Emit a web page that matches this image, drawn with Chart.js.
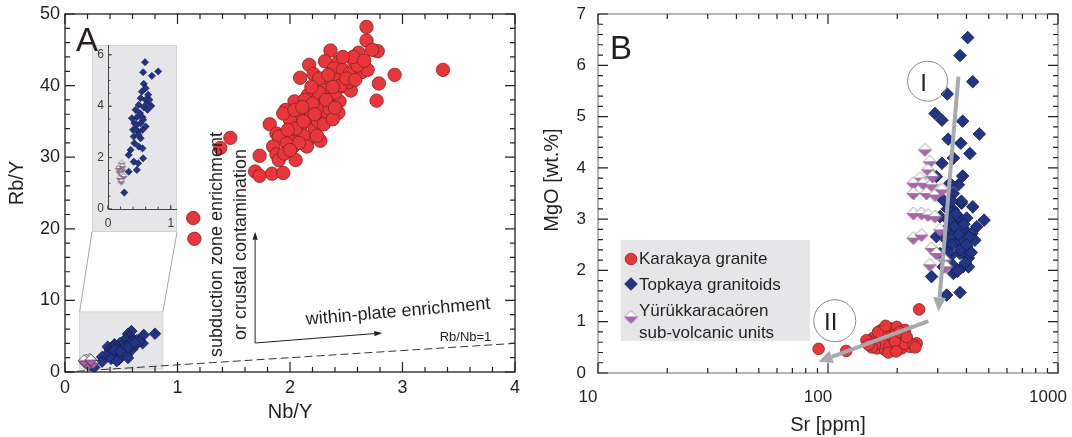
<!DOCTYPE html>
<html lang="en">
<head>
<meta charset="utf-8">
<title>Nb/Y – Rb/Y and Sr – MgO</title>
<script src="https://cdn.jsdelivr.net/npm/chart.js@4.4.0/dist/chart.umd.min.js"></script>
<style>
  html, body { margin: 0; padding: 0; background: #fff; }
  #page { position: relative; width: 1072px; height: 437px; overflow: hidden; }
  #page canvas { position: absolute; }
  #chartA { left: 0; top: 0; }
  #chartB { left: 536px; top: 0; }
</style>
</head>
<body>
<div id="page">
  <!-- inset sits under panel A so the panel letter stays on top -->
  <canvas id="chartInset" width="85" height="187"></canvas>
  <canvas id="chartA" width="536" height="437"></canvas>
  <canvas id="chartB" width="536" height="437"></canvas>
</div>
<script>
/* ============================================
   Panel A: Nb/Y vs Rb/Y (with inset)
   Panel B: Sr vs MgO
   ============================================ */

const FONT = "'Liberation Sans', Arial, Helvetica, sans-serif";
const INK = '#231f20';
Chart.defaults.font.family = FONT;
Chart.defaults.color = INK;

// --- panel A samples: [Nb/Y, Rb/Y] ---
const karakayaNbRb = [
    [1.14, 21.5], [1.15, 18.6], [1.38, 31.3], [1.47, 32.7],
    [2.68, 48.2], [2.68, 46.3], [2.78, 44.8], [2.73, 45.0], [2.36, 44.9], [2.61, 44.6],
    [2.17, 42.9], [2.31, 43.4], [2.43, 43.3], [2.57, 43.4], [2.93, 41.5], [3.36, 42.2],
    [2.09, 41.1], [2.21, 41.6], [2.39, 42.4], [2.47, 42.2], [2.64, 41.9], [2.69, 42.2], [2.53, 41.7],
    [2.79, 40.3], [2.77, 37.9], [2.30, 40.5], [2.42, 40.8], [2.47, 39.9], [2.54, 39.3], [2.29, 39.5],
    [2.16, 38.7], [2.04, 37.8], [1.96, 36.6], [2.13, 38.0], [2.24, 38.0], [2.31, 37.3], [2.44, 37.8],
    [2.43, 36.2], [2.28, 36.6], [2.33, 35.7], [2.15, 35.4], [2.07, 35.9], [2.00, 35.2], [1.82, 34.6],
    [1.88, 33.3], [1.90, 32.9], [2.02, 32.9], [2.03, 31.5], [2.16, 32.4], [2.22, 34.0], [2.27, 32.3],
    [1.85, 31.5], [1.88, 30.4], [1.90, 29.6], [2.05, 29.6], [1.73, 30.2], [1.69, 28.0], [1.73, 27.4],
    [1.84, 27.7], [1.94, 27.8], [1.97, 31.9], [2.09, 33.3], [1.94, 36.1], [2.36, 38.7], [2.04, 36.6],
    [2.10, 34.5], [2.18, 36.5], [2.25, 35.0], [2.35, 36.8], [2.12, 33.0], [2.20, 37.5], [2.05, 34.0],
    [2.15, 31.5], [2.40, 39.0], [2.52, 40.5], [2.60, 42.8], [2.26, 39.0],
    [2.26, 41.0], [2.34, 41.5], [2.45, 40.0], [2.50, 41.0], [2.58, 40.8], [2.38, 39.8], [2.32, 38.0],
    [2.19, 39.8], [2.11, 37.0], [2.22, 36.0], [2.30, 34.6], [2.38, 35.3], [2.08, 32.0], [1.98, 33.8],
    [2.12, 35.0], [2.24, 33.0], [1.95, 30.5], [2.00, 31.0], [2.56, 44.0], [2.47, 44.0], [2.66, 43.5],
    [2.40, 36.9]
];
const topkayaNbRb = [
    [0.59, 5.71], [0.56, 5.32], [0.70, 5.18], [0.80, 5.35], [0.57, 4.87], [0.60, 4.70], [0.54, 4.57],
    [0.64, 4.44], [0.52, 4.31], [0.60, 4.25], [0.69, 4.01], [0.49, 4.05], [0.57, 3.96], [0.44, 3.86],
    [0.51, 3.73], [0.38, 3.53], [0.46, 3.57], [0.55, 3.57], [0.42, 3.34], [0.52, 3.34], [0.60, 3.21],
    [0.40, 3.08], [0.48, 3.01], [0.55, 3.08], [0.41, 2.82], [0.52, 2.75], [0.42, 2.56], [0.49, 2.43],
    [0.55, 2.36], [0.36, 2.30], [0.33, 2.10], [0.41, 1.84], [0.48, 1.78], [0.56, 1.97], [0.46, 1.52],
    [0.33, 1.45], [0.26, 0.64], [0.46, 3.27], [0.56, 3.47], [0.63, 3.86], [0.44, 3.08], [0.49, 2.88],
    [0.66, 4.25], [0.62, 4.09]
];
const yurukNbRb = [
    [0.22, 1.78], [0.19, 1.65], [0.23, 1.52], [0.18, 1.45], [0.22, 1.32],
    [0.19, 1.19], [0.21, 1.06], [0.25, 1.26], [0.17, 1.58], [0.23, 1.65]
];

// --- panel B samples: [Sr ppm, MgO wt.%] ---
const karakayaSrMg = [
    [249, 1.24], [91, 0.47], [120, 0.43], [171, 0.84], [186, 0.87], [199, 0.90], [157, 0.68],
    [151, 0.61], [168, 0.64], [180, 0.71], [195, 0.74], [209, 0.71], [223, 0.61], [243, 0.58],
    [163, 0.48], [177, 0.45], [192, 0.48], [209, 0.48], [227, 0.51], [147, 0.64], [189, 0.61],
    [206, 0.61], [174, 0.58], [216, 0.84], [160, 0.55], [185, 0.52], [200, 0.55], [215, 0.57],
    [235, 0.55], [170, 0.75], [155, 0.50], [195, 0.62], [165, 0.80], [178, 0.92], [205, 0.80],
    [220, 0.70], [150, 0.55], [240, 0.50], [183, 0.40], [198, 0.42]
];
const topkayaSrMg = [
    [405, 6.54], [375, 6.19], [426, 5.68], [330, 5.44], [292, 5.06], [313, 4.93], [385, 4.91],
    [455, 4.66], [333, 4.56], [378, 4.48], [414, 4.28], [313, 4.09], [351, 4.19], [385, 3.84],
    [296, 3.83], [369, 3.67], [351, 3.50], [381, 3.31], [426, 3.24], [477, 2.98], [443, 2.85],
    [351, 3.18], [333, 2.98], [363, 2.92], [394, 2.79], [422, 2.72], [296, 2.66], [328, 2.59],
    [363, 2.56], [401, 2.46], [375, 2.33], [408, 2.24], [339, 2.27], [317, 2.07], [282, 1.88],
    [351, 1.94], [328, 1.52], [375, 1.57], [307, 3.05], [317, 3.37], [339, 3.70], [351, 2.72],
    [381, 2.63], [328, 2.40], [307, 2.33], [386, 2.07], [435, 2.59], [369, 3.05], [401, 3.02],
    [408, 2.07], [340, 3.00], [355, 2.85], [370, 2.70], [345, 2.50], [390, 2.90], [360, 3.10],
    [330, 3.20], [375, 2.40], [410, 2.65], [420, 2.35], [395, 2.15], [350, 2.10], [335, 2.35],
    [365, 1.98], [400, 2.50], [380, 3.35], [325, 2.80], [315, 2.70], [345, 3.35]
];
const yurukSrMg = [
    [264, 4.35], [277, 4.12], [272, 3.96], [251, 3.80], [235, 3.70], [235, 3.50], [259, 3.70],
    [282, 3.67], [307, 3.57], [268, 3.50], [292, 3.47], [235, 3.11], [255, 3.11], [272, 3.08],
    [292, 3.05], [235, 2.63], [255, 2.69], [307, 2.79], [282, 2.43], [296, 2.33], [277, 2.11],
    [322, 2.20], [326, 2.07], [313, 3.57], [285, 3.83]
];

// trend arrows in panel B, [from, to] as [Sr, MgO]
const trendI = [[369, 5.78], [302, 1.20]];
const trendII = [[273, 1.01], [91, 0.22]];

// --- axis ticks and labels ---
const nbyTicks = [0, 1, 2, 3, 4];
const rbyTicks = [0, 10, 20, 30, 40, 50];
const insetXTicks = [0, 1];
const insetYTicks = [0, 2, 4, 6];
const srTicks = [10, 100, 1000];
const mgoTicks = [0, 1, 2, 3, 4, 5, 6, 7];
const legendLabels = [['Karakaya granite'], ['Topkaya granitoids'], ['Yürükkaracaören', 'sub-volcanic units']];

const RED = '#e8363a', RED_EDGE = '#7d2323';
const BLUE = '#233484', BLUE_EDGE = '#111a48';
const MAUVE = '#b35db5';
const SHADE = '#e6e6e9';
const TREND = '#a7a9ac';

// inset placement inside panel A
const INSET = { left: 92, top: 45, w: 85, h: 187 };

const toXY = arr => arr.map(([x, y]) => ({ x, y }));
const useTicks = values => s => { s.ticks = values.map(v => ({ value: v })); };

// fixed axis band; drop the label overhang padding so the plot area stays put
const bandHeight = h => s => { s.height = h; s.paddingLeft = 0; s.paddingRight = 0; };
const bandWidth = w => s => { s.width = w; s.paddingTop = 0; s.paddingBottom = 0; };

function range(from, to, step) {
    const out = [];
    for (let v = from; v <= to + step / 1000; v += step) out.push(Math.round(v * 1e6) / 1e6);
    return out;
}

function logMinor(from, to) {
    const out = [];
    for (let d = from; d < to; d *= 10) for (let k = 2; k < 10; k++) out.push(d * k);
    return out;
}

// diamond with a white upper half and a mauve lower half
function splitDiamond(r, edge) {
    const c = document.createElement('canvas');
    const s = Math.ceil(r * 2 + 2);
    c.width = s; c.height = s;
    const g = c.getContext('2d');
    const m = s / 2;
    g.beginPath(); g.moveTo(m - r, m); g.lineTo(m, m - r); g.lineTo(m + r, m); g.closePath();
    g.fillStyle = '#fff'; g.fill();
    g.beginPath(); g.moveTo(m - r, m); g.lineTo(m, m + r); g.lineTo(m + r, m); g.closePath();
    g.fillStyle = MAUVE; g.fill();
    g.beginPath(); g.moveTo(m - r, m); g.lineTo(m, m - r); g.lineTo(m + r, m); g.lineTo(m, m + r); g.closePath();
    g.moveTo(m - r, m); g.lineTo(m + r, m);
    g.strokeStyle = edge; g.lineWidth = 0.7; g.stroke();
    return c;
}

function arrow(ctx, x1, y1, x2, y2, len, half) {
    const ang = Math.atan2(y2 - y1, x2 - x1);
    const bx = x2 - len * Math.cos(ang), by = y2 - len * Math.sin(ang);
    ctx.beginPath(); ctx.moveTo(x1, y1); ctx.lineTo(bx, by); ctx.stroke();
    ctx.beginPath(); ctx.moveTo(x2, y2);
    ctx.lineTo(bx + half * Math.sin(ang), by - half * Math.cos(ang));
    ctx.lineTo(bx - half * Math.sin(ang), by + half * Math.cos(ang));
    ctx.closePath(); ctx.fill();
}

function textAt(ctx, str, x, y, size, angle, align) {
    ctx.save();
    ctx.translate(x, y);
    ctx.rotate(angle || 0);
    ctx.font = `${size}px ${FONT}`;
    ctx.fillStyle = INK;
    ctx.textAlign = align || 'center';
    ctx.textBaseline = 'middle';
    ctx.fillText(str, 0, 0);
    ctx.restore();
}

// frame plus inward tick marks, placed through the chart's own scales
function axisFrame(id, o) {
    return {
        id,
        afterDraw(chart) {
            const ctx = chart.ctx;
            const a = chart.chartArea;
            const sx = chart.scales.x, sy = chart.scales.y;
            ctx.save();
            if (o.frame) {
                ctx.strokeStyle = o.frame;
                ctx.lineWidth = o.frameWidth;
                ctx.strokeRect(a.left, a.top, a.right - a.left, a.bottom - a.top);
            }
            if (o.axes) {
                ctx.fillStyle = o.axes;
                ctx.fillRect(Math.round(a.left), a.top, 1, a.bottom - a.top + 1);
                ctx.fillRect(a.left, Math.round(a.bottom), a.right - a.left, 1);
            }
            ctx.strokeStyle = o.tick;
            ctx.lineWidth = o.tickWidth;
            ctx.lineCap = 'butt';
            ctx.beginPath();
            for (const [vals, len] of [[o.xMinor, o.minor], [o.xMajor, o.major]]) {
                for (const v of vals) {
                    const p = sx.getPixelForValue(v);
                    ctx.moveTo(p, a.bottom); ctx.lineTo(p, a.bottom - len);
                    if (o.allSides) { ctx.moveTo(p, a.top); ctx.lineTo(p, a.top + len); }
                }
            }
            for (const [vals, len] of [[o.yMinor, o.minor], [o.yMajor, o.major]]) {
                for (const v of vals) {
                    const p = sy.getPixelForValue(v);
                    ctx.moveTo(a.left, p); ctx.lineTo(a.left + len, p);
                    if (o.allSides) { ctx.moveTo(a.right, p); ctx.lineTo(a.right - len, p); }
                }
            }
            ctx.stroke();
            ctx.restore();
        }
    };
}

function baseOptions(padding) {
    return {
        responsive: false,
        animation: false,
        events: [],
        devicePixelRatio: 1,
        layout: { padding, autoPadding: false },
        plugins: { legend: { display: false }, tooltip: { enabled: false } }
    };
}

function axis(extra) {
    return Object.assign({
        grid: { display: false, drawTicks: false },
        border: { display: false }
    }, extra);
}

// ---------- panel A ----------
const panelAExtras = {
    id: 'panelAExtras',
    beforeDatasetsDraw(chart) {
        const { ctx, scales: { x, y } } = chart;
        ctx.save();
        // shaded window that the inset enlarges
        const L = x.getPixelForValue(0.13), R = x.getPixelForValue(0.87);
        const T = y.getPixelForValue(8.4), B = y.getPixelForValue(0.4);
        ctx.fillStyle = SHADE; ctx.fillRect(L, T, R - L, B - T);
        ctx.strokeStyle = '#d2d2d5'; ctx.lineWidth = 1; ctx.strokeRect(L, T, R - L, B - T);
        ctx.strokeStyle = '#8e8e8e'; ctx.lineWidth = 0.8;
        ctx.beginPath();
        ctx.moveTo(L, T); ctx.lineTo(INSET.left, INSET.top + INSET.h);
        ctx.moveTo(R, T); ctx.lineTo(INSET.left + INSET.w, INSET.top + INSET.h);
        ctx.stroke();
        // Rb/Nb = 1
        ctx.setLineDash([8, 4]);
        ctx.strokeStyle = '#333'; ctx.lineWidth = 1;
        ctx.beginPath();
        ctx.moveTo(x.getPixelForValue(0), y.getPixelForValue(0));
        ctx.lineTo(x.getPixelForValue(4), y.getPixelForValue(4));
        ctx.stroke();
        ctx.restore();
    },
    afterDatasetsDraw(chart) {
        const { ctx, scales: { x, y } } = chart;
        ctx.save();
        ctx.strokeStyle = INK; ctx.fillStyle = INK; ctx.lineWidth = 1;
        const ox = x.getPixelForValue(1.69), oy = y.getPixelForValue(4.05);
        arrow(ctx, ox, oy, ox, y.getPixelForValue(19.6), 8, 2.6);
        arrow(ctx, ox, oy, x.getPixelForValue(2.82), y.getPixelForValue(5.45), 8, 2.6);
        ctx.restore();
        textAt(ctx, 'subduction zone enrichment', x.getPixelForValue(1.35), y.getPixelForValue(17.8), 18, -Math.PI / 2);
        textAt(ctx, 'or crustal contamination', x.getPixelForValue(1.565), y.getPixelForValue(17.8), 18, -Math.PI / 2);
        textAt(ctx, 'within-plate enrichment', x.getPixelForValue(2.96), y.getPixelForValue(8.4), 18, -5 * Math.PI / 180);
        textAt(ctx, 'Rb/Nb=1', x.getPixelForValue(3.56), y.getPixelForValue(4.8), 13);
    },
    afterDraw(chart) {
        const { ctx } = chart;
        textAt(ctx, 'Rb/Y', 17, 183, 20, -Math.PI / 2);
        ctx.save();
        ctx.font = `33px ${FONT}`; ctx.fillStyle = INK;
        ctx.textBaseline = 'alphabetic'; ctx.textAlign = 'left';
        ctx.fillText('A', 76, 51);
        ctx.restore();
    }
};

new Chart(document.getElementById('chartA'), {
    type: 'scatter',
    data: {
        datasets: [
            { label: 'Yürükkaracaören sub-volcanic units', data: toXY(yurukNbRb), pointStyle: splitDiamond(6, '#2b2b2b'), pointRadius: 6 },
            { label: 'Topkaya granitoids', data: toXY(topkayaNbRb), pointStyle: 'rectRot', pointRadius: 5.8, backgroundColor: BLUE, borderColor: BLUE_EDGE, borderWidth: 0.8 },
            { label: 'Karakaya granite', data: toXY(karakayaNbRb), pointStyle: 'circle', pointRadius: 6.7, backgroundColor: RED, borderColor: RED_EDGE, borderWidth: 0.8 }
        ]
    },
    options: Object.assign(baseOptions({ top: 14, right: 21, left: 0, bottom: 0 }), {
        scales: {
            x: axis({
                type: 'linear', min: 0, max: 4,
                afterBuildTicks: useTicks(nbyTicks),
                afterFit: bandHeight(65),
                ticks: { font: { size: 18 }, padding: 5, maxRotation: 0, autoSkip: false },
                title: { display: true, text: 'Nb/Y', font: { size: 20 }, padding: { top: 0, bottom: 13 } }
            }),
            y: axis({
                type: 'linear', min: 0, max: 50,
                afterBuildTicks: useTicks(rbyTicks),
                afterFit: bandWidth(65),
                ticks: { font: { size: 18 }, padding: 5, autoSkip: false }
            })
        }
    }),
    plugins: [panelAExtras, axisFrame('frameA', {
        frame: INK, frameWidth: 1.3, tick: INK, tickWidth: 1.2, allSides: true, major: 10, minor: 5,
        xMajor: nbyTicks, xMinor: range(0, 4, 0.2), yMajor: rbyTicks, yMinor: range(0, 50, 2)
    })]
});

// ---------- inset of panel A ----------
const insetCanvas = document.getElementById('chartInset');
insetCanvas.style.left = INSET.left + 'px';
insetCanvas.style.top = INSET.top + 'px';

const insetBackground = {
    id: 'insetBackground',
    beforeDraw(chart) {
        const { ctx, width, height } = chart;
        ctx.save();
        ctx.fillStyle = SHADE; ctx.fillRect(0, 0, width, height);
        ctx.strokeStyle = '#d2d2d5'; ctx.lineWidth = 1; ctx.strokeRect(0.5, 0.5, width - 1, height - 1);
        ctx.restore();
    }
};

new Chart(insetCanvas, {
    type: 'scatter',
    data: {
        datasets: [
            { data: toXY(yurukNbRb), pointStyle: splitDiamond(3.2, '#666'), pointRadius: 3.2 },
            { data: toXY(topkayaNbRb), pointStyle: 'rectRot', pointRadius: 3.6, backgroundColor: BLUE, borderColor: BLUE_EDGE, borderWidth: 0.6 }
        ]
    },
    options: Object.assign(baseOptions(0), {
        scales: {
            x: axis({
                type: 'linear', min: 0, max: 1.1,
                afterBuildTicks: useTicks(insetXTicks),
                afterFit: bandHeight(23),
                ticks: { font: { size: 12 }, color: '#3a3a3a', padding: 7, maxRotation: 0, autoSkip: false }
            }),
            y: axis({
                type: 'linear', min: 0, max: 6.38,
                afterBuildTicks: useTicks(insetYTicks),
                afterFit: bandWidth(16),
                ticks: { font: { size: 12 }, color: '#3a3a3a', padding: 4, autoSkip: false }
            })
        }
    }),
    plugins: [insetBackground, axisFrame('frameInset', {
        axes: '#444', tick: '#444', tickWidth: 1, allSides: false, major: 4, minor: 2.5,
        xMajor: insetXTicks, xMinor: range(0, 1, 0.2), yMajor: insetYTicks, yMinor: range(0, 6, 0.5)
    })]
});

// ---------- panel B ----------
function drawLegend(ctx) {
    ctx.save();
    ctx.fillStyle = SHADE;
    ctx.fillRect(85, 240, 189, 101);
    const mx = 95, tx = 103;
    // red circle
    ctx.beginPath(); ctx.arc(mx, 259, 5.8, 0, Math.PI * 2);
    ctx.fillStyle = RED; ctx.fill(); ctx.strokeStyle = RED_EDGE; ctx.lineWidth = 0.8; ctx.stroke();
    // blue diamond
    ctx.beginPath(); ctx.moveTo(mx - 6.3, 284); ctx.lineTo(mx, 284 - 6.3); ctx.lineTo(mx + 6.3, 284); ctx.lineTo(mx, 284 + 6.3); ctx.closePath();
    ctx.fillStyle = BLUE; ctx.fill(); ctx.strokeStyle = BLUE_EDGE; ctx.stroke();
    // split diamond
    const img = splitDiamond(6.5, '#777');
    ctx.drawImage(img, mx - img.width / 2, 317 - img.height / 2);
    ctx.restore();
    const rows = [[259], [285], [311, 333]];
    legendLabels.forEach((lines, i) => {
        lines.forEach((t, j) => textAt(ctx, t, tx, rows[i][j], 17, 0, 'left'));
    });
}

const panelBExtras = {
    id: 'panelBExtras',
    afterDatasetsDraw(chart) {
        const { ctx, scales: { x, y } } = chart;
        const px = p => [x.getPixelForValue(p[0]), y.getPixelForValue(p[1])];
        ctx.save();
        ctx.strokeStyle = TREND; ctx.fillStyle = TREND; ctx.lineWidth = 4;
        [trendI, trendII].forEach(([from, to]) => {
            const a = px(from), b = px(to);
            arrow(ctx, a[0], a[1], b[0], b[1], 14, 6.5);
        });
        ctx.restore();
        // trend labels in circles
        [['I', [271, 5.69], 20], ['II', [107, 1.02], 21]].forEach(([label, at, r]) => {
            const [cx, cy] = px(at);
            ctx.save();
            ctx.strokeStyle = '#8a8a8a'; ctx.lineWidth = 1;
            ctx.beginPath(); ctx.arc(cx, cy, r, 0, Math.PI * 2); ctx.stroke();
            ctx.restore();
            textAt(ctx, label, cx - 4, cy + 3, 24);
        });
    },
    afterDraw(chart) {
        const { ctx } = chart;
        drawLegend(ctx);
        textAt(ctx, 'MgO [wt.%]', 16.5, 180, 20, -Math.PI / 2);
        ctx.save();
        ctx.font = `33px ${FONT}`; ctx.fillStyle = INK;
        ctx.textBaseline = 'alphabetic'; ctx.textAlign = 'left';
        ctx.fillText('B', 74, 59);
        ctx.restore();
    }
};

new Chart(document.getElementById('chartB'), {
    type: 'scatter',
    data: {
        datasets: [
            { label: 'Yürükkaracaören sub-volcanic units', data: toXY(yurukSrMg), pointStyle: splitDiamond(6.5, '#777'), pointRadius: 6.5 },
            { label: 'Topkaya granitoids', data: toXY(topkayaSrMg), pointStyle: 'rectRot', pointRadius: 6.3, backgroundColor: BLUE, borderColor: BLUE_EDGE, borderWidth: 0.8 },
            { label: 'Karakaya granite', data: toXY(karakayaSrMg), pointStyle: 'circle', pointRadius: 5.8, backgroundColor: RED, borderColor: RED_EDGE, borderWidth: 0.8 }
        ]
    },
    options: Object.assign(baseOptions({ top: 14, right: 14, left: 0, bottom: 0 }), {
        scales: {
            x: axis({
                type: 'logarithmic', min: 10, max: 1000,
                afterBuildTicks: useTicks(srTicks),
                afterFit: bandHeight(64),
                ticks: { font: { size: 17 }, padding: 14, labelOffset: -10, maxRotation: 0, autoSkip: false, callback: v => String(v) },
                title: { display: true, text: 'Sr [ppm]', font: { size: 20 }, padding: { top: 0, bottom: 0 } }
            }),
            y: axis({
                type: 'linear', min: 0, max: 7,
                afterBuildTicks: useTicks(mgoTicks),
                afterFit: bandWidth(62),
                ticks: { font: { size: 17 }, padding: 12, autoSkip: false }
            })
        }
    }),
    plugins: [panelBExtras, axisFrame('frameB', {
        frame: '#b4b4b4', frameWidth: 2, tick: INK, tickWidth: 1.2, allSides: true, major: 10, minor: 5,
        xMajor: srTicks, xMinor: logMinor(10, 1000), yMajor: mgoTicks, yMinor: range(0, 7, 0.2)
    })]
});
</script>
</body>
</html>
